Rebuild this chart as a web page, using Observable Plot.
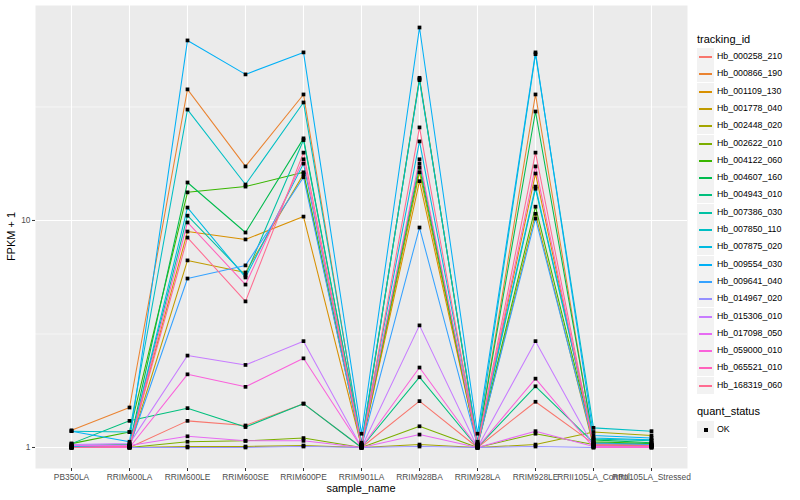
<!DOCTYPE html>
<html>
<head>
<meta charset="utf-8">
<script src="https://cdn.jsdelivr.net/npm/d3@7"></script>
<script src="https://cdn.jsdelivr.net/npm/@observablehq/plot@0.6"></script>
<style>
  body { margin: 0; background: #fff; }
  #wrap { position: relative; width: 800px; height: 500px; font-family: "Liberation Sans", Arial, sans-serif; }
  #legend { position: absolute; left: 0; top: 0; width: 800px; height: 500px; pointer-events: none; }
  .lt { position: absolute; font-size: 11px; color: #000; white-space: nowrap; }
  .key { position: absolute; width: 17px; height: 17px; background: #F2F2F2; }
  .lab { position: absolute; font-size: 8.8px; color: #000; white-space: nowrap; }
</style>
</head>
<body>
<div id="wrap"><div id="legend"></div></div>
<script>
const samples = ["PB350LA","RRIM600LA","RRIM600LE","RRIM600SE","RRIM600PE","RRIM901LA","RRIM928BA","RRIM928LA","RRIM928LE","RRII105LA_Control","RRII105LA_Stressed"];
const trackingIds = ["Hb_000258_210","Hb_000866_190","Hb_001109_130","Hb_001778_040","Hb_002448_020","Hb_002622_010","Hb_004122_060","Hb_004607_160","Hb_004943_010","Hb_007386_030","Hb_007850_110","Hb_007875_020","Hb_009554_030","Hb_009641_040","Hb_014967_020","Hb_015306_010","Hb_017098_050","Hb_059000_010","Hb_065521_010","Hb_168319_060"];
const colors = ["#F8766D","#EA8331","#D89000","#C09B00","#A3A500","#7CAE00","#39B600","#00BB4E","#00BF7D","#00C1A3","#00BFC4","#00BAE0","#00B0F6","#35A2FF","#9590FF","#C77CFF","#E76BF3","#FA62DB","#FF62BC","#FF6C91"];
const yTicks = [1, 10];

// FPKM + 1 per sample (order of samples)
const Hb_000258_210 = [1.01, 1.00, 1.31, 1.25, 1.56, 1.00, 1.60, 1.00, 1.59, 1.04, 1.02];
const Hb_000866_190 = [1.19, 1.50, 37.8, 17.3, 35.9, 1.02, 42.5, 1.03, 35.9, 1.05, 1.03];
const Hb_001109_130 = [1.00, 1.01, 8.94, 8.25, 10.4, 1.01, 14.9, 1.02, 16.1, 1.02, 1.02];
const Hb_001778_040 = [1.00, 1.00, 6.67, 5.90, 16.0, 1.00, 16.3, 1.01, 10.7, 1.01, 1.01];
const Hb_002448_020 = [1.00, 1.00, 1.01, 1.01, 1.02, 1.00, 1.03, 1.00, 1.03, 1.17, 1.13];
const Hb_002622_010 = [1.00, 1.00, 1.06, 1.07, 1.10, 1.00, 1.24, 1.00, 1.15, 1.03, 1.02];
const Hb_004122_060 = [1.04, 1.17, 13.3, 14.1, 16.3, 1.02, 17.1, 1.02, 11.5, 1.06, 1.04];
const Hb_004607_160 = [1.02, 1.03, 14.7, 8.85, 23.0, 1.03, 42.0, 1.04, 30.2, 1.08, 1.05];
const Hb_004943_010 = [1.04, 1.31, 1.49, 1.23, 1.56, 1.00, 2.04, 1.00, 1.86, 1.05, 1.03];
const Hb_007386_030 = [1.01, 1.02, 10.5, 5.72, 22.6, 1.03, 17.8, 1.03, 13.8, 1.09, 1.07];
const Hb_007850_110 = [1.18, 1.17, 30.8, 14.4, 33.1, 1.05, 41.5, 1.06, 54.0, 1.22, 1.18];
const Hb_007875_020 = [1.01, 1.02, 11.4, 5.61, 17.8, 1.04, 22.3, 1.05, 14.1, 1.10, 1.08];
const Hb_009554_030 = [1.18, 1.06, 62.1, 44.0, 55.0, 1.15, 70.8, 1.15, 55.0, 1.13, 1.10];
const Hb_009641_040 = [1.00, 1.01, 5.55, 6.34, 15.5, 1.01, 9.31, 1.02, 10.2, 1.04, 1.03];
const Hb_014967_020 = [1.00, 1.00, 1.00, 1.00, 1.01, 1.00, 1.01, 1.00, 1.01, 1.00, 1.00];
const Hb_015306_010 = [1.03, 1.04, 2.54, 2.31, 2.94, 1.00, 3.45, 1.00, 2.94, 1.01, 1.01];
const Hb_017098_050 = [1.02, 1.02, 1.12, 1.07, 1.07, 1.00, 1.14, 1.00, 1.18, 1.01, 1.00];
const Hb_059000_010 = [1.00, 1.00, 2.10, 1.85, 2.47, 1.00, 2.25, 1.00, 2.01, 1.00, 1.00];
const Hb_065521_010 = [1.00, 1.01, 9.80, 5.22, 18.6, 1.02, 18.6, 1.02, 17.3, 1.02, 1.01];
const Hb_168319_060 = [1.00, 1.01, 8.41, 4.40, 19.9, 1.02, 25.7, 1.03, 19.9, 1.03, 1.02];

const seriesValues = [Hb_000258_210, Hb_000866_190, Hb_001109_130, Hb_001778_040, Hb_002448_020, Hb_002622_010, Hb_004122_060, Hb_004607_160, Hb_004943_010, Hb_007386_030, Hb_007850_110, Hb_007875_020, Hb_009554_030, Hb_009641_040, Hb_014967_020, Hb_015306_010, Hb_017098_050, Hb_059000_010, Hb_065521_010, Hb_168319_060];

const data = [];
trackingIds.forEach((id, i) => {
  samples.forEach((s, j) => data.push({id, sample: s, value: seriesValues[i][j]}));
});

const chart = Plot.plot({
  width: 800, height: 500,
  marginLeft: 35, marginRight: 113, marginTop: 5, marginBottom: 32,
  style: {fontFamily: "Liberation Sans, Arial, sans-serif", background: "transparent"},
  x: {type: "point", domain: samples, padding: 0.6, axis: null},
  y: {type: "log", domain: [0.808, 88.5], axis: null},
  color: {domain: trackingIds, range: colors},
  marks: [
    Plot.frame({fill: "#EBEBEB", stroke: null}),
    Plot.ruleY([Math.sqrt(10), Math.sqrt(1000)], {stroke: "white", strokeWidth: 0.55}),
    Plot.ruleY(yTicks, {stroke: "white", strokeWidth: 1.1}),
    Plot.ruleX(samples, {x: d => d, stroke: "white", strokeWidth: 1.1}),
    Plot.line(data, {x: "sample", y: "value", z: "id", stroke: "id", strokeWidth: 1.05}),
    Plot.dot(data, {x: "sample", y: "value", symbol: "square", r: 2.1, fill: "black", stroke: null}),
    Plot.axisX({tickSize: 3, tickPadding: 3, fontSize: 8.4, fill: "#4D4D4D", stroke: "#333333", label: null}),
    Plot.axisY(yTicks, {tickSize: 3, tickPadding: 2, fontSize: 8.4, fill: "#4D4D4D", stroke: "#333333", label: null, tickFormat: d => String(d)})
  ]
});
document.getElementById("wrap").insertBefore(chart, document.getElementById("legend"));

const svg = d3.select(chart);
svg.append("text").attr("x", 361).attr("y", 492).attr("text-anchor", "middle")
  .attr("font-size", 11).attr("fill", "#000").text("sample_name");
svg.append("text").attr("transform", "translate(15,236.5) rotate(-90)").attr("text-anchor", "middle")
  .attr("font-size", 11).attr("fill", "#000").text("FPKM + 1");

// legend
const leg = document.getElementById("legend");
function add(cls, left, top, html, style) {
  const d = document.createElement("div");
  d.className = cls; d.style.left = left + "px"; d.style.top = top + "px";
  if (html != null) d.textContent = html;
  if (style) Object.assign(d.style, style);
  leg.appendChild(d); return d;
}
add("lt", 697, 33, "tracking_id");
trackingIds.forEach((id, i) => {
  const top = Math.round(48 + i * 17.3);
  const k = add("key", 697, top, null);
  const ln = document.createElement("div");
  Object.assign(ln.style, {position: "absolute", left: "2px", width: "13px", top: "8px", height: "1.5px", background: colors[i]});
  k.appendChild(ln);
  add("lab", 717, top + 3, id);
});
add("lt", 697, 405, "quant_status");
const k2 = add("key", 697, 421, null);
const sq = document.createElement("div");
Object.assign(sq.style, {position: "absolute", left: "7px", top: "7px", width: "4px", height: "4px", background: "#000"});
k2.appendChild(sq);
add("lab", 717, 424, "OK");
</script>
</body>
</html>
